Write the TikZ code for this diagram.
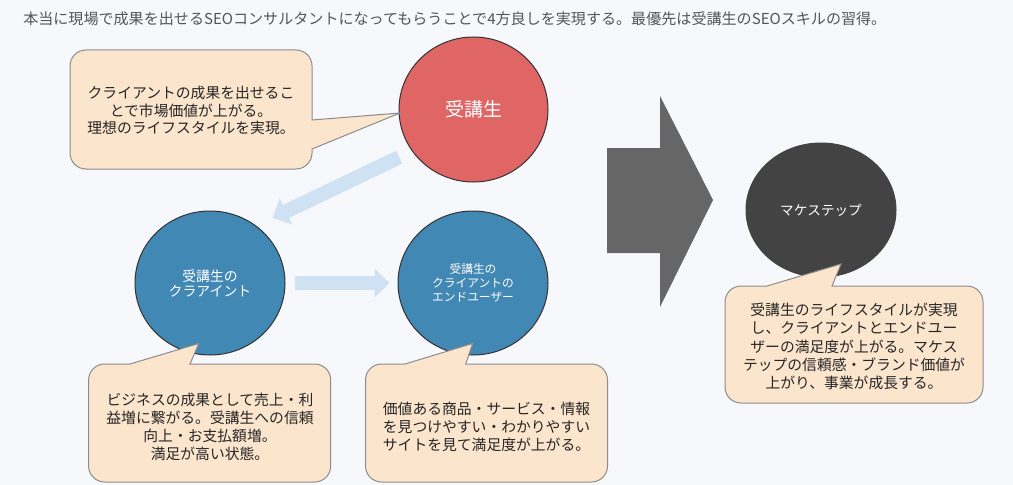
\documentclass[tikz,border=0pt]{standalone}
\usepackage{fontspec}
\setmainfont{Noto Sans CJK JP}
\usetikzlibrary{shapes.geometric,arrows.meta}
\definecolor{bg}{HTML}{F7F8FC}
\definecolor{redc}{HTML}{E06666}
\definecolor{bluec}{HTML}{4288B5}
\definecolor{darkc}{HTML}{434343}
\definecolor{grayarrow}{HTML}{666666}
\definecolor{callfill}{HTML}{FCE5CD}
\definecolor{callline}{HTML}{8C8C8C}
\definecolor{lblue}{HTML}{CFE2F3}
\definecolor{titlec}{HTML}{555555}
\definecolor{txt}{HTML}{262626}
\definecolor{circline}{HTML}{333333}
\begin{document}
\begin{tikzpicture}[x=0.75pt,y=-0.75pt,
  circ/.style={ellipse, draw=circline, line width=0.75pt, inner sep=0pt, align=center, text=white},
  bubble/.style={fill=callfill, draw=callline, line width=0.75pt},
  btext/.style={align=center, text=txt, inner sep=0pt},
  flow/.style={draw=lblue, line width=10.75pt, -{Triangle[length=11.25pt,width=21pt]}},
]
\useasboundingbox (0,0) rectangle (1013,485);
\fill[bg] (0,0) rectangle (1013,485);

\node[anchor=west, text=titlec, inner sep=0pt, font=\fontsize{11.3pt}{13pt}\selectfont] (title) at (23,19)
  {本当に現場で成果を出せるSEOコンサルタントになってもらうことで4方良しを実現する。最優先は受講生のSEOスキルの習得。};

% big gray arrow
\fill[grayarrow] (607,148) -- (660,148) -- (660,96) -- (713,200) -- (660,307) -- (660,253) -- (607,253) -- cycle;

% circles
\node[circ, fill=redc, minimum width=111.75pt, minimum height=108.75pt,
  font=\fontsize{14.25pt}{17pt}\selectfont] (stu) at (473.5,109.5) {受講生};
\node[circ, fill=bluec, minimum width=112.5pt, minimum height=108pt,
  font=\fontsize{10.4pt}{11.25pt}\selectfont] (cli) at (210,283) {受講生の\\クラアイント};
\node[circ, fill=bluec, minimum width=112.5pt, minimum height=108pt,
  font=\fontsize{8.8pt}{10.5pt}\selectfont] (eu) at (473,283) {受講生の\\クライアントの\\エンドユーザー};
\node[circ, fill=darkc, draw=darkc, minimum width=112.5pt, minimum height=100.5pt,
  font=\fontsize{10.2pt}{12pt}\selectfont] (mk) at (821,210) {マケステップ};

% flow arrows
\draw[flow, shorten <=10.5pt, shorten >=13.5pt] (stu.214) -- (cli.51);
\draw[flow, shorten <=6.75pt, shorten >=6pt] (cli) -- (eu);

% callouts
\path[bubble] (86,50) -- (296,50) arc[start angle=90,end angle=0,radius=12pt] -- (312,120) -- (400,113) -- (312,149)
  -- (312,153) arc[start angle=0,end angle=-90,radius=12pt] -- (86,169) arc[start angle=270,end angle=180,radius=12pt]
  -- (70,66) arc[start angle=180,end angle=90,radius=12pt] -- cycle;
\path[bubble] (104.6,364) -- (130,364) -- (198.8,343.5) -- (190,364) -- (314.7,364) arc[start angle=90,end angle=0,radius=12pt]
  -- (330.7,466) arc[start angle=0,end angle=-90,radius=12pt] -- (104.6,482) arc[start angle=270,end angle=180,radius=12pt]
  -- (88.6,380) arc[start angle=180,end angle=90,radius=12pt] -- cycle;
\path[bubble] (381.5,364) -- (405,364) -- (472.6,343.5) -- (465.7,364) -- (591.5,364) arc[start angle=90,end angle=0,radius=12pt]
  -- (607.5,466) arc[start angle=0,end angle=-90,radius=12pt] -- (381.5,482) arc[start angle=270,end angle=180,radius=12pt]
  -- (365.5,380) arc[start angle=180,end angle=90,radius=12pt] -- cycle;
\path[bubble] (741,286) -- (767,286) -- (841,264) -- (832,286) -- (967,286) arc[start angle=90,end angle=0,radius=12pt]
  -- (983,387) arc[start angle=0,end angle=-90,radius=12pt] -- (741,403) arc[start angle=270,end angle=180,radius=12pt]
  -- (725,302) arc[start angle=180,end angle=90,radius=12pt] -- cycle;

% callout texts
\node[btext, font=\fontsize{11.1pt}{13.1pt}\selectfont] (t1) at (191,110.5)
  {クライアントの成果を出せるこ\\とで市場価値が上がる。\\理想のライフスタイルを実現。};
\node[btext, font=\fontsize{11.1pt}{13.5pt}\selectfont] (t2) at (210,427)
  {ビジネスの成果として売上・利\\益増に繋がる。受講生への信頼\\向上・お支払額増。\\満足が高い状態。};
\node[btext, font=\fontsize{11.1pt}{13.3pt}\selectfont] (t3) at (486.5,427)
  {価値ある商品・サービス・情報\\を見つけやすい・わかりやすい\\サイトを見て満足度が上がる。};
\node[btext, font=\fontsize{11.1pt}{13.7pt}\selectfont] (t4) at (854,346.5)
  {受講生のライフスタイルが実現\\し、クライアントとエンドユー\\ザーの満足度が上がる。マケス\\テップの信頼感・ブランド価値が\\上がり、事業が成長する。};
\end{tikzpicture}
\end{document}
